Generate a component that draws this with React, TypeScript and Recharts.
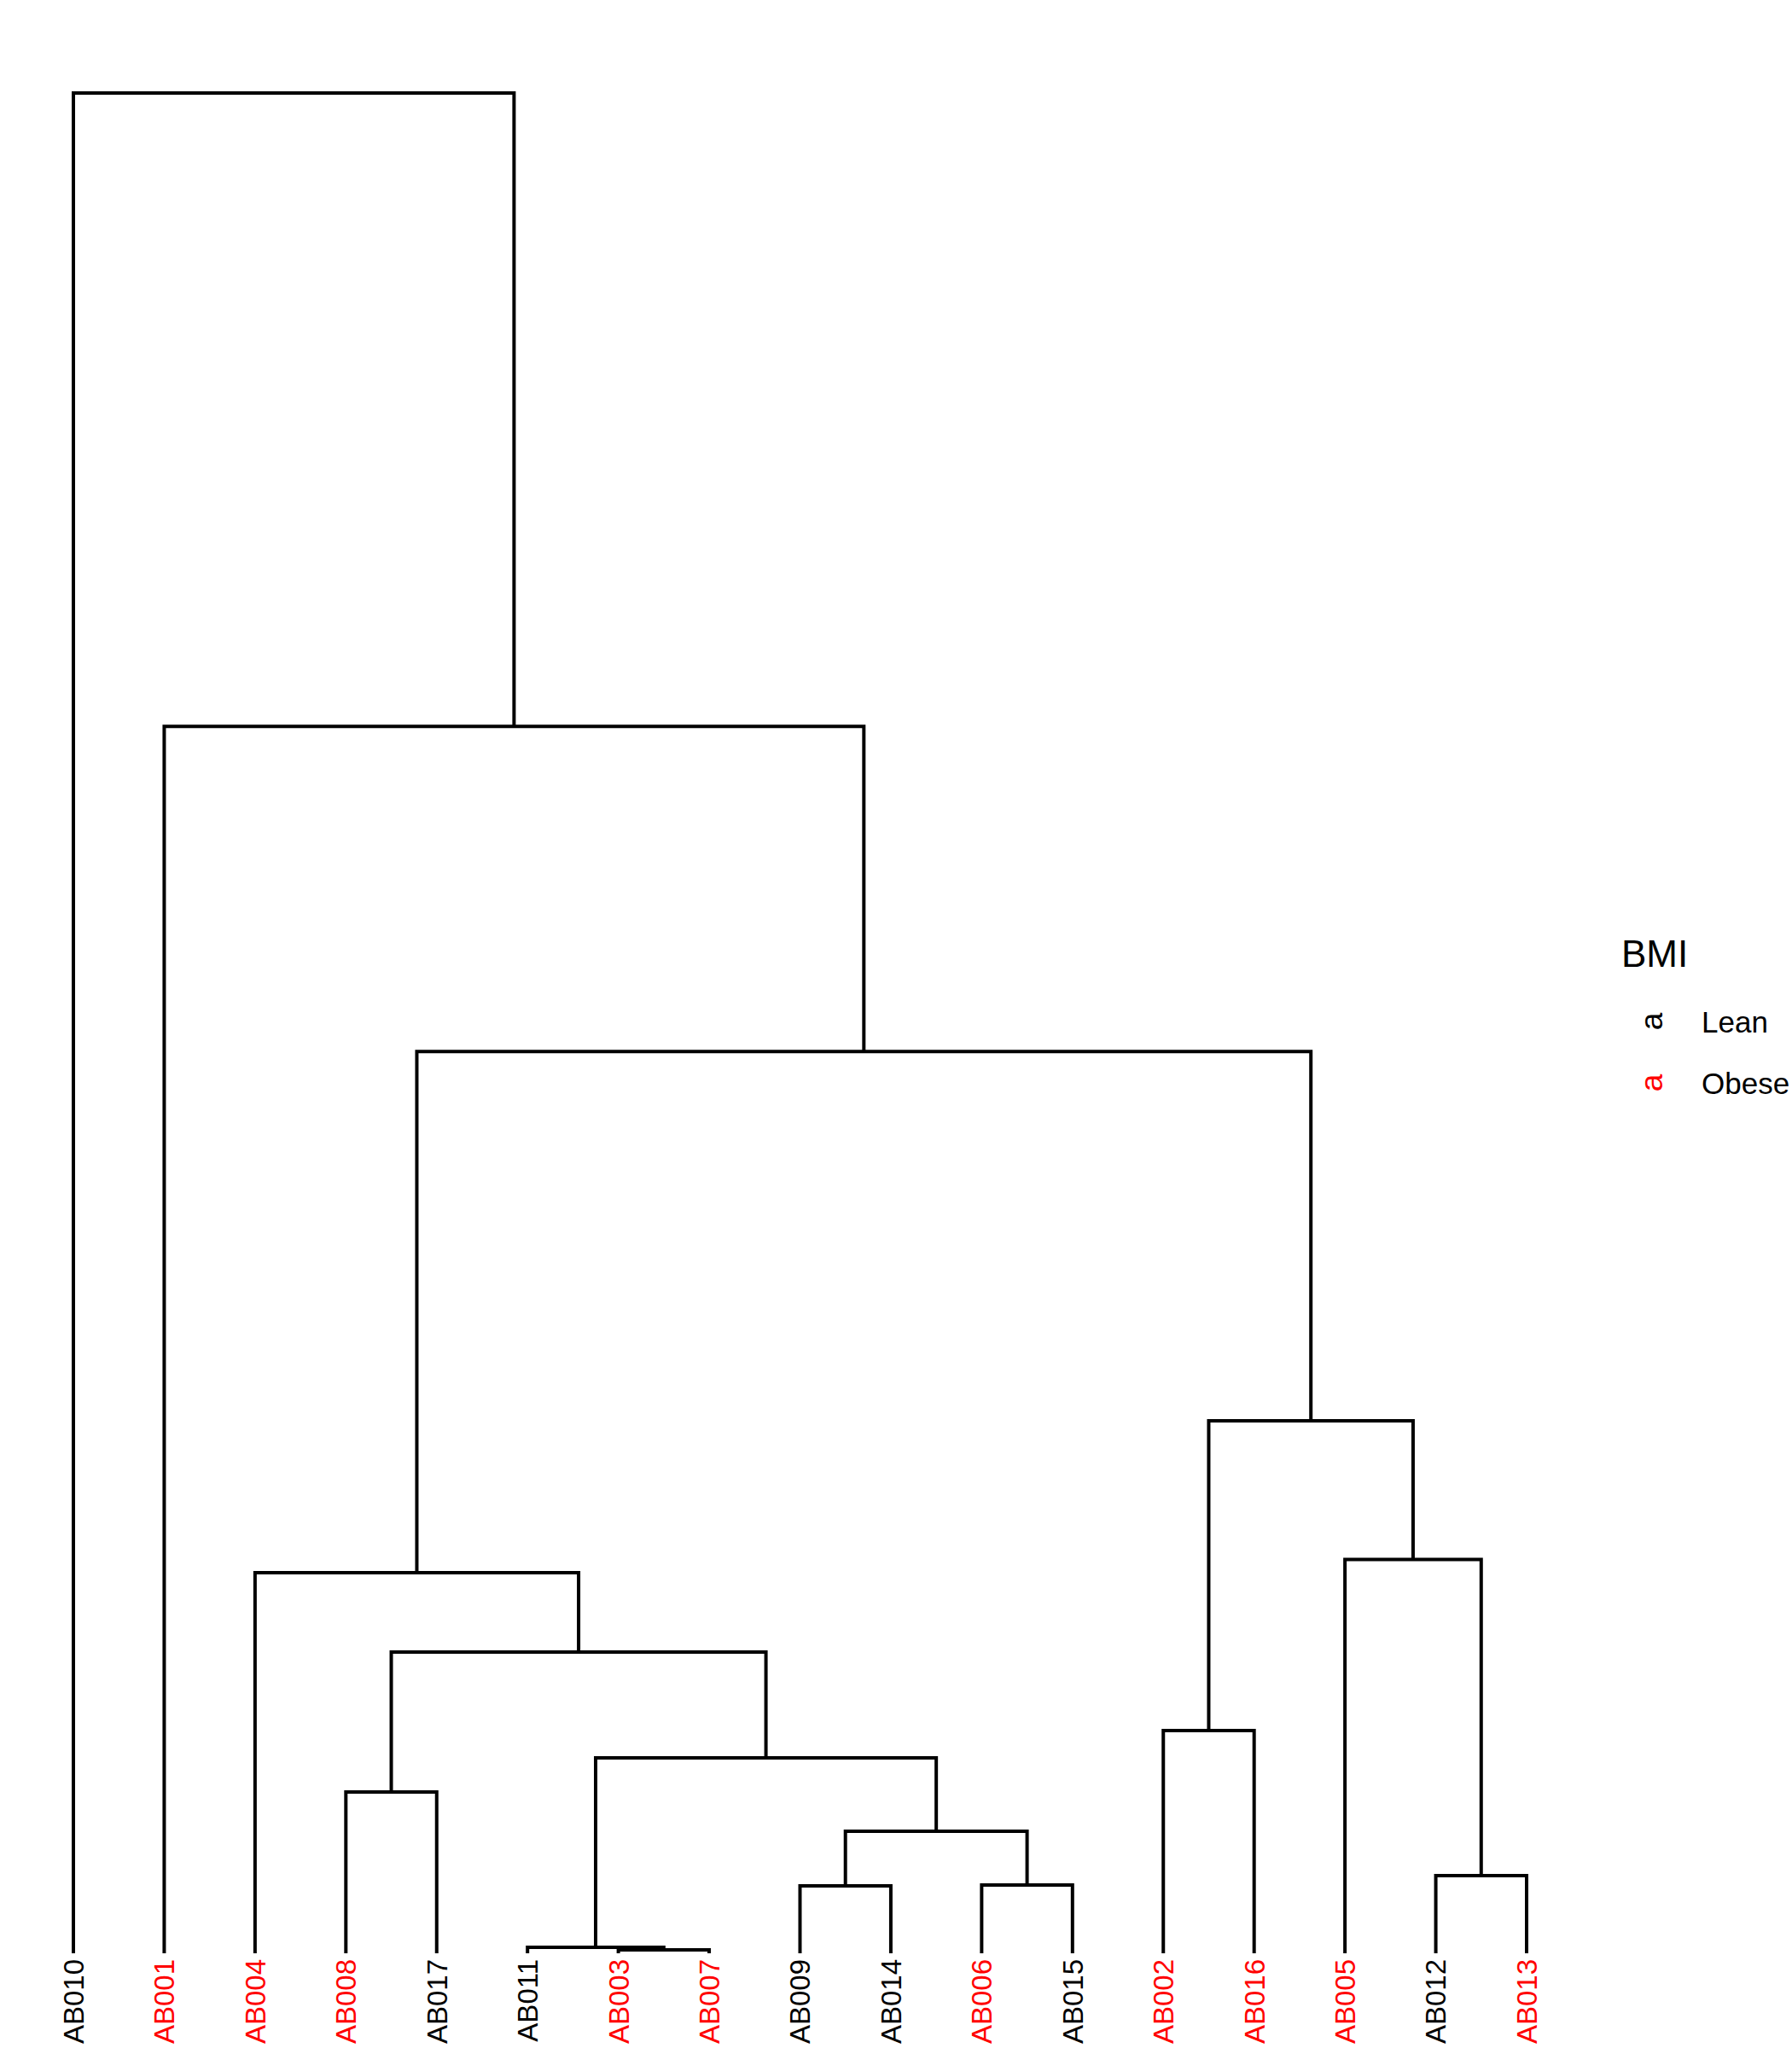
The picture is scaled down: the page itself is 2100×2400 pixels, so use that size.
import { Line, LineChart, XAxis, YAxis } from 'recharts';

// leaf order, left to right
const LEAVES = [
  'AB010', 'AB001', 'AB004', 'AB008', 'AB017', 'AB011', 'AB003', 'AB007', 'AB009',
  'AB014', 'AB006', 'AB015', 'AB002', 'AB016', 'AB005', 'AB012', 'AB013',
];
const OBESE = ['AB001', 'AB004', 'AB008', 'AB003', 'AB007', 'AB006', 'AB002', 'AB016', 'AB005', 'AB013'];

// hclust-style merges: negative = leaf position, positive = earlier merge
const MERGES: [number, number][] = [
  [-7, -8], [-6, 1], [-9, -10], [-11, -12], [-16, -17], [3, 4], [-4, -5], [2, 6],
  [-13, -14], [7, 8], [-3, 10], [-15, 5], [9, 12], [11, 13], [-2, 14], [-1, 15],
];
const HEIGHTS = [
  0.0018, 0.0032, 0.0362, 0.0367, 0.0417, 0.0656, 0.0867, 0.105,
  0.1197, 0.1619, 0.2046, 0.2117, 0.2862, 0.4848, 0.6595, 1.0,
];

const LEGEND_TITLE = 'BMI';
const LEGEND_ITEMS = ['Lean', 'Obese'];

const FONT = '"Liberation Sans", Arial, Helvetica, sans-serif';
const RED = '#ff0000';

type Pt = { x: number; y: number };
const nodes: Pt[] = [];
const segments: Pt[][] = MERGES.map(([a, b], i) => {
  const get = (id: number): Pt => (id < 0 ? { x: -id, y: 0 } : nodes[id - 1]);
  const l = get(a);
  const r = get(b);
  const h = HEIGHTS[i];
  nodes.push({ x: (l.x + r.x) / 2, y: h });
  return [
    { x: l.x, y: l.y },
    { x: l.x, y: h },
    { x: r.x, y: h },
    { x: r.x, y: r.y },
  ];
});

function LeafTick({ x, y, payload }: any) {
  const name = LEAVES[payload.value - 1];
  const ty = y + 7;
  return (
    <text
      x={x}
      y={ty}
      transform={`rotate(-90 ${x} ${ty})`}
      textAnchor="end"
      dy="0.36em"
      fontSize={33}
      fontFamily={FONT}
      fill={OBESE.includes(name) ? RED : '#000'}
    >
      {name}
    </text>
  );
}

function BmiLegend() {
  return (
    <svg
      width={2100}
      height={2400}
      style={{ position: 'absolute', left: 0, top: 0, pointerEvents: 'none' }}
    >
      <text x={1900} y={1133} fontSize={44} fontFamily={FONT} fill="#000">
        {LEGEND_TITLE}
      </text>
      {LEGEND_ITEMS.map((d, i) => {
        const cy = 1197 + i * 72;
        const col = d === 'Obese' ? RED : '#000';
        return (
          <g key={d}>
            <text
              x={1938}
              y={cy}
              transform={`rotate(-90 1938 ${cy})`}
              textAnchor="middle"
              dy="0.27em"
              fontSize={37}
              fontFamily={FONT}
              fill={col}
            >
              a
            </text>
            <text x={1994} y={cy} dy="0.36em" fontSize={35} fontFamily={FONT} fill="#000">
              {d}
            </text>
          </g>
        );
      })}
    </svg>
  );
}

export default function App() {
  return (
    <div style={{ position: 'absolute', left: 0, top: 0, width: 2100, height: 2400, background: '#fff' }}>
      <LineChart width={2100} height={2400} margin={{ top: 109, right: 311, bottom: 0, left: 86 }}>
        <XAxis
          type="number"
          dataKey="x"
          domain={[1, 17]}
          ticks={LEAVES.map((_, i) => i + 1)}
          interval={0}
          height={111}
          axisLine={false}
          tickLine={false}
          tickSize={0}
          tickMargin={0}
          tick={<LeafTick />}
        />
        <YAxis type="number" dataKey="y" domain={[0, 1]} hide />
        {segments.map((pts, i) => (
          <Line
            key={i}
            data={pts}
            dataKey="y"
            type="linear"
            stroke="#000"
            strokeWidth={4}
            strokeLinejoin="miter"
            strokeLinecap="butt"
            dot={false}
            activeDot={false}
            isAnimationActive={false}
          />
        ))}
      </LineChart>
      <BmiLegend />
    </div>
  );
}
